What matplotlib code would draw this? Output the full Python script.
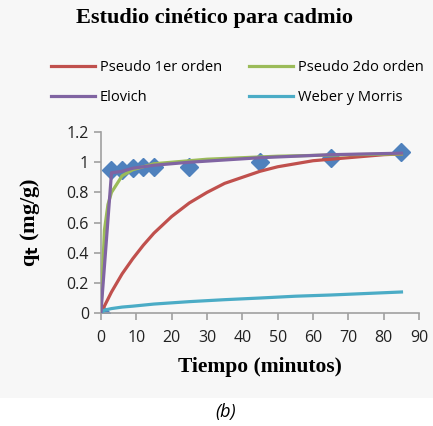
import matplotlib.pyplot as plt
from matplotlib.lines import Line2D

# experimental data (diamonds)
t_exp = [0, 3, 6, 9, 12, 15, 25, 45, 65, 85]
q_exp = [0, 0.95, 0.95, 0.96, 0.97, 0.97, 0.97, 1.00, 1.03, 1.07]

# model curves
t_p1 = [0, 3, 6, 9, 12, 15, 20, 25, 30, 35, 40, 45, 50, 55, 60, 65, 70, 75, 80, 85]
q_p1 = [0, 0.14, 0.26, 0.36, 0.45, 0.53, 0.64, 0.73, 0.80, 0.86, 0.90, 0.94,
        0.97, 0.99, 1.01, 1.02, 1.03, 1.04, 1.05, 1.055]

t_p2 = [0, 1, 2, 3, 6, 9, 12, 15, 20, 25, 30, 40, 50, 60, 70, 85]
q_p2 = [0, 0.55, 0.72, 0.80, 0.91, 0.95, 0.97, 0.99, 1.00, 1.01, 1.02, 1.03,
        1.04, 1.045, 1.05, 1.055]

t_elo = [0, 3, 6, 9, 12, 15, 25, 45, 65, 85]
q_elo = [0, 0.93, 0.94, 0.96, 0.97, 0.98, 1.00, 1.03, 1.05, 1.06]

t_wm = [0, 1, 3, 6, 9, 12, 15, 25, 35, 45, 55, 65, 75, 85]
q_wm = [0, 0.02, 0.03, 0.04, 0.046, 0.053, 0.06, 0.076, 0.089, 0.10, 0.112, 0.12, 0.13, 0.14]

labels = ["Pseudo 1er orden", "Pseudo 2do orden", "Elovich", "Weber y Morris"]
colors = ["#C0504D", "#9BBB59", "#8064A2", "#4BACC6"]

fig = plt.figure(figsize=(4.33, 4.26), dpi=100)
fig.patch.set_facecolor("white")
# light gray panel behind the chart, white strip at the bottom
fig.patches.append(plt.Rectangle((0, 0.066), 1, 0.934, transform=fig.transFigure,
                                 facecolor="#f7f7f7", edgecolor="none", zorder=-10))

ax = fig.add_axes([0.233, 0.265, 0.735, 0.425])
ax.set_facecolor("#f7f7f7")

ax.plot(t_exp, q_exp, linestyle="none", marker="D", markersize=9.5,
        color="#4F81BD", zorder=2)
ax.plot(t_p1, q_p1, color=colors[0], lw=2.3, zorder=3)
ax.plot(t_p2, q_p2, color=colors[1], lw=2.3, zorder=3)
ax.plot(t_elo, q_elo, color=colors[2], lw=2.3, zorder=4)
ax.plot(t_wm, q_wm, color=colors[3], lw=2.3, zorder=3)

ax.set_xlim(0, 90)
ax.set_ylim(0, 1.2)
ax.set_xticks(range(0, 91, 10))
ax.set_yticks([0, 0.2, 0.4, 0.6, 0.8, 1.0, 1.2])
ax.set_yticklabels(["0", "0.2", "0.4", "0.6", "0.8", "1", "1.2"])
for s in ["top", "right"]:
    ax.spines[s].set_visible(False)
for s in ["left", "bottom"]:
    ax.spines[s].set_color("#a0a0a0")
    ax.spines[s].set_linewidth(1.2)
ax.tick_params(colors="#a0a0a0", labelcolor="#222222", length=5, width=1.2,
               labelsize=11.5)
ax.tick_params(axis="x", pad=7)
for lab in ax.get_xticklabels() + ax.get_yticklabels():
    lab.set_family("Open Sans")

ax.set_xlabel("Tiempo (minutos)", family="Liberation Serif", fontweight="bold",
              fontsize=15.5, labelpad=8)
ax.set_ylabel(r"q$_\mathbf{t}$ (mg/g)", family="Liberation Serif", fontweight="bold",
              fontsize=16, labelpad=18)

fig.text(0.495, 0.957, "Estudio cinético para cadmio", ha="center", va="center",
         family="Liberation Serif", fontweight="bold", fontsize=16)

# matplotlib fills legend columns first, so order handles column-wise
order = [0, 2, 1, 3]
handles = [Line2D([], [], color=colors[i], lw=2.3) for i in order]
fig.legend(handles, [labels[i] for i in order], ncol=2, loc="center",
           bbox_to_anchor=(0.548, 0.806), frameon=False, handlelength=3.0,
           handletextpad=0.34, columnspacing=1.85, labelspacing=1.0,
           prop={"family": "Open Sans", "size": 10.5})

fig.text(0.522, 0.033, "(b)", ha="center", va="center", family="Open Sans",
         style="italic", fontsize=13)

fig.savefig("out.png", dpi=100, facecolor=fig.get_facecolor())
